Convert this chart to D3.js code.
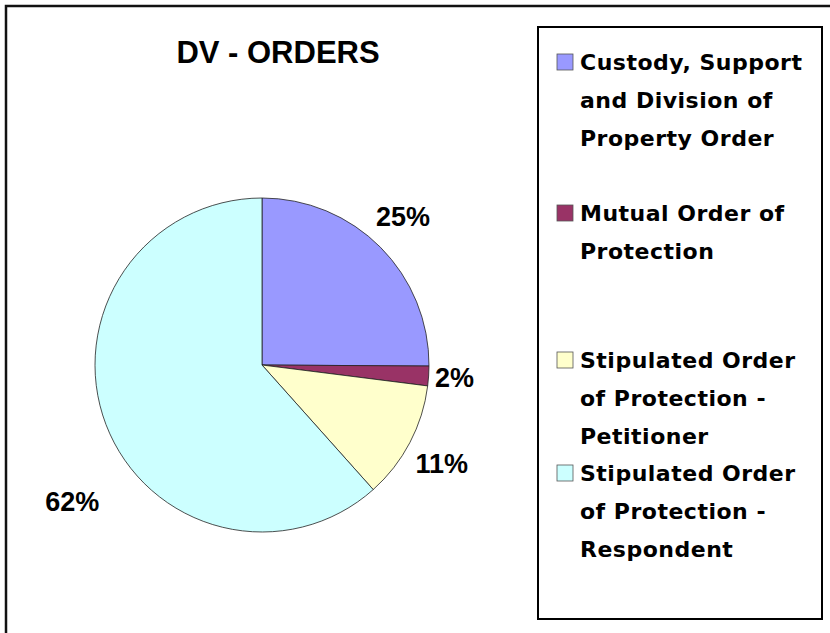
<!DOCTYPE html>
<html>
<head>
<meta charset="utf-8">
<script src="https://cdn.jsdelivr.net/npm/d3@7"></script>
<style>
	html, body { margin: 0; padding: 0; background: #fff; }
	.pct { font-family: "Liberation Sans", Arial, sans-serif; font-weight: bold; font-size: 27px; }
	.title { font-family: "Liberation Sans", Arial, sans-serif; font-weight: bold; font-size: 31px; }
	.legend-text { font-family: "DejaVu Sans", sans-serif; font-weight: bold; font-size: 22px; letter-spacing: 0.5px; }
</style>
</head>
<body>
<svg id="chart" width="830" height="633"></svg>
<script>
// chart data
var title = 'DV - ORDERS';
var categories = [
	'Custody, Support and Division of Property Order',
	'Mutual Order of Protection',
	'Stipulated Order of Protection - Petitioner',
	'Stipulated Order of Protection - Respondent'
];
var legendLines = [
	['Custody, Support', 'and Division of', 'Property Order'],
	['Mutual Order of', 'Protection'],
	['Stipulated Order', 'of Protection -', 'Petitioner'],
	['Stipulated Order', 'of Protection -', 'Respondent']
];
var shares = [25.1, 1.9, 11.4, 61.6];
var colors = ['#9999ff', '#993366', '#ffffcc', '#ccffff'];

// layout
var width = 830, height = 633;
var cx = 262, cy = 365, radius = 167;
var labelRadius = 203;
var labelNudge = [[-3, -5], [-10, 0], [0, 5], [0, 65]]; // excel moved the big label down
var legendBaselines = [70, 221, 368, 481]; // first line of each legend entry
var lineStep = 38;

var svg = d3.select('#chart');

// outer chart border (runs off the right and bottom)
svg.append('rect')
	.attr('x', 6).attr('y', 6)
	.attr('width', width + 20).attr('height', height + 20)
	.attr('fill', 'none')
	.attr('stroke', '#111')
	.attr('stroke-width', 2.5);

svg.append('text')
	.attr('class', 'title')
	.attr('x', 278).attr('y', 63)
	.attr('text-anchor', 'middle')
	.text(title);

var pie = d3.pie().value(function(d) { return d; }).sort(null);
var arcs = pie(shares);

var arc = d3.arc().innerRadius(0).outerRadius(radius);
var labelArc = d3.arc().innerRadius(labelRadius).outerRadius(labelRadius);

var g = svg.append('g').attr('transform', 'translate(' + cx + ',' + cy + ')');

g.selectAll('path')
	.data(arcs)
	.enter()
	.append('path')
	.attr('d', arc)
	.attr('fill', function(d, i) { return colors[i]; })
	.attr('stroke', '#222')
	.attr('stroke-width', 0.8);

var pct = d3.format('.0%');
var total = d3.sum(shares);

g.selectAll('text.pct')
	.data(arcs)
	.enter()
	.append('text')
	.attr('class', 'pct')
	.attr('text-anchor', 'middle')
	.attr('dominant-baseline', 'central')
	.attr('transform', function(d, i) {
		var c = labelArc.centroid(d);
		return 'translate(' + (c[0] + labelNudge[i][0]) + ',' + (c[1] + labelNudge[i][1]) + ')';
	})
	.text(function(d) { return pct(d.value / total); });

// legend
svg.append('rect')
	.attr('x', 538).attr('y', 27)
	.attr('width', 284).attr('height', 592)
	.attr('fill', '#fff')
	.attr('stroke', '#000')
	.attr('stroke-width', 2);

var items = svg.selectAll('g.legend-item')
	.data(categories)
	.enter()
	.append('g')
	.attr('class', 'legend-item')
	.attr('transform', function(d, i) { return 'translate(557,' + legendBaselines[i] + ')'; });

items.append('rect')
	.attr('x', 0).attr('y', -16)
	.attr('width', 16).attr('height', 16)
	.attr('fill', function(d, i) { return colors[i]; })
	.attr('stroke', '#555')
	.attr('stroke-width', 0.8);

items.append('text')
	.attr('class', 'legend-text')
	.attr('x', 23)
	.selectAll('tspan')
	.data(function(d, i) { return legendLines[i]; })
	.enter()
	.append('tspan')
	.attr('x', 23)
	.attr('y', function(d, j) { return j * lineStep; })
	.text(function(d) { return d; });
</script>
</body>
</html>
